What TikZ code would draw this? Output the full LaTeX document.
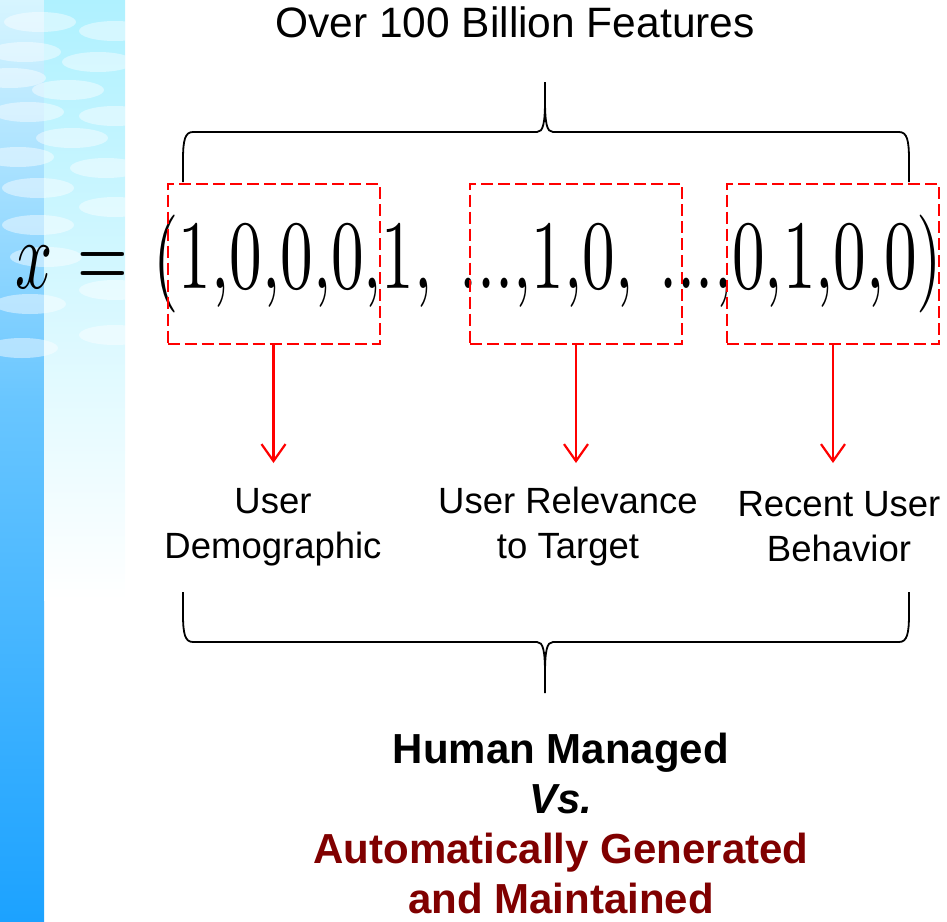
\documentclass[tikz,border=0pt]{standalone}
\usepackage{fontspec}
\setmainfont{Liberation Sans}
\usepackage{graphicx}
\usepackage{tikz}
\usetikzlibrary{arrows.meta, positioning, calc}
\definecolor{stripTop}{RGB}{215, 245, 255}
\definecolor{stripMid}{RGB}{105, 198, 255}
\definecolor{stripLow}{RGB}{28, 162, 255}
\definecolor{paleCyan}{RGB}{175, 241, 255}
\definecolor{autoRed}{RGB}{128, 0, 0}
\newcommand{\skipdots}{\mkern7.4mu{.}{.}{.}}

\begin{document}
\begin{tikzpicture}[
  x=1pt, y=-1pt,
  featbox/.style={rectangle, draw=red, line width=2pt,
                  dash pattern=on 12pt off 5pt,
                  minimum width=212pt, minimum height=160pt,
                  inner sep=0pt},
  lab/.style={align=center, inner sep=0pt,
              font=\fontsize{36.5}{45}\selectfont},
  pick/.style={draw=red, line width=2.2pt,
               -{Straight Barb[length=17pt, width=24pt]}},
  curly/.style={draw=black, line width=1.8pt},
  bubble/.style={fill=white, opacity=0.45}
]
  \useasboundingbox (0,0) rectangle (947,921);

  %% Background strips (left)
  \shade[top color=stripTop, bottom color=stripMid] (0,0) rectangle (44,400);
  \shade[top color=stripMid, bottom color=stripLow] (0,400) rectangle (44,921);
  \shade[top color=paleCyan, bottom color=white] (44,0) rectangle (125,600);
  \begin{scope}
    \clip (0,0) rectangle (125,921);
    \foreach \bx/\by in {40/22, 115/31, 25/52, 98/62, 10/78, 68/90,
                         28/112, 115/116, 72/138, 18/157, 106/168,
                         38/188, 115/207, 38/225, 46/257, 115/290,
                         30/304, 115/335, 22/348}
      \fill[bubble] (\bx,\by) ellipse (36pt and 10pt);
  \end{scope}

  %% Title
  \node[font=\fontsize{42.5}{50}\selectfont, inner sep=0pt] (title)
    at (515,22.5) {Over 100 Billion Features};

  %% Feature vector
  \node[anchor=base west, inner sep=0pt] (vec) at (15,288)
    {\resizebox{927pt}{73.5pt}{$x\mkern7mu{=}\mkern7mu(1{,}0{,}0{,}0{,}1{,}\skipdots{,}1{,}0{,}\skipdots{,}0{,}1{,}0{,}0)$}};

  %% Dashed groups
  \node[featbox] (demo) at (273.5,263.5) {};
  \node[featbox] (relv) at (576,263.5) {};
  \node[featbox] (recn) at (833,263.5) {};

  %% Top brace
  \draw[curly] (183,182) -- (183,160)
    .. controls (183,140) and (185,132) .. (193,132) -- (537,132)
    .. controls (543,132) and (545,124) .. (545,100) -- (545,82)
    (545,100) .. controls (545,124) and (547,132) .. (553,132) -- (899,132)
    .. controls (907,132) and (909,140) .. (909,160) -- (909,182);

  %% Labels
  \node[lab] (lab1) at (273,527) {User\\Demographic};
  \node[lab] (lab2) at (568,527) {User Relevance\\to Target};
  \node[lab] (lab3) at (839,527) {Recent User\\Behavior};

  \coordinate (tips) at (0,463);
  \foreach \grp in {demo,relv,recn}
    \draw[pick] (\grp.south) -- (\grp.south |- tips);

  %% Bottom brace
  \draw[curly] (183,592) -- (183,614)
    .. controls (183,634) and (185,642) .. (193,642) -- (537,642)
    .. controls (543,642) and (545,650) .. (545,674) -- (545,693)
    (545,674) .. controls (545,650) and (547,642) .. (553,642) -- (899,642)
    .. controls (907,642) and (909,634) .. (909,614) -- (909,592);

  %% Conclusion
  \node[align=center, inner sep=0pt, font=\fontsize{42}{50}\selectfont\bfseries]
    (concl) at (561,823)
    {Human Managed\\\textit{Vs.}\\\textcolor{autoRed}{Automatically Generated}\\\textcolor{autoRed}{and Maintained}};

\end{tikzpicture}
\end{document}
